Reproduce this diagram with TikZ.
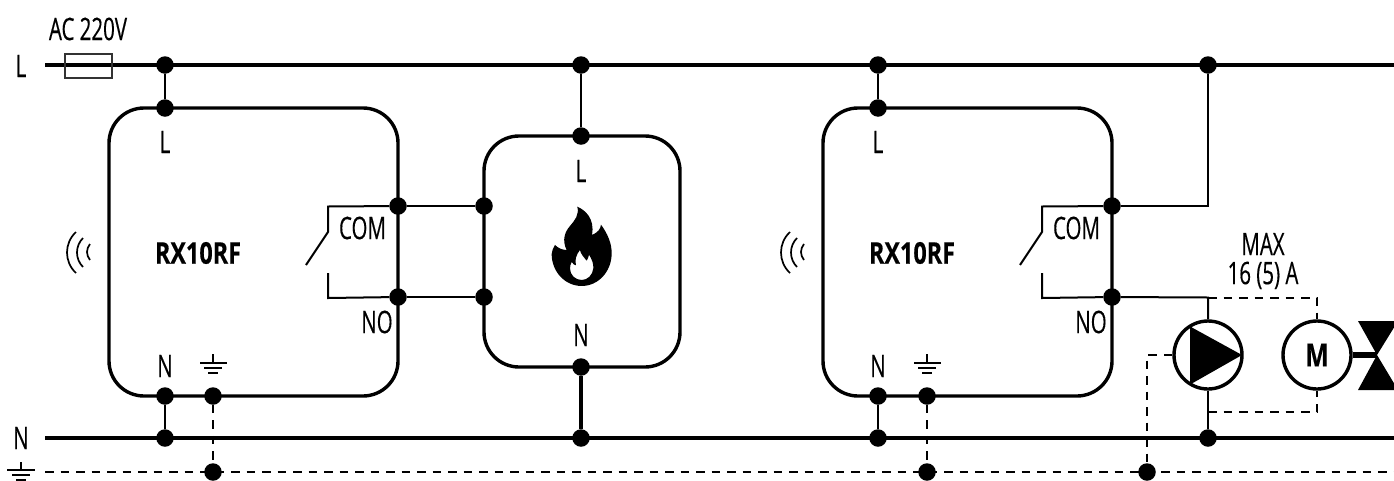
\documentclass[tikz,border=0pt]{standalone}
\usepackage{fontspec}
\setmainfont[FakeStretch=0.66,FakeBold=0.35,BoldFeatures={FakeStretch=0.78,FakeBold=0.3}]{Open Sans}
\begin{document}
\begin{tikzpicture}[x=1pt,y=-1pt,
  dotnode/.style={circle,fill=black,draw=none,minimum size=17.5pt,inner sep=0pt},
  boxnode/.style={draw=black,line width=3.4pt,rounded corners=35pt,inner sep=0pt,fill=none},
  lbl/.style={font=\fontsize{31}{31}\selectfont,inner sep=0pt,text=black},
  bold/.style={font=\fontsize{30}{30}\selectfont\bfseries,inner sep=0pt,text=black},
  bus/.style={line width=3.6pt},
  thin wire/.style={line width=2pt},
  mid wire/.style={line width=2.6pt},
  dashwire/.style={line width=2pt,dash pattern=on 8.5pt off 7pt},
  symb/.style={line width=3.4pt,draw=black,circle,minimum size=68pt,inner sep=0pt},
  earthbar/.style={line width=2.2pt},
  wave/.style={line width=1.7pt}]
\useasboundingbox (0,0) rectangle (1394,480);
% boxes
\node[boxnode,minimum width=289pt,minimum height=288pt] (b1) at (253.5,252) {};
\node[boxnode,minimum width=196pt,minimum height=231pt] (b2) at (582,251.5) {};
\node[boxnode,minimum width=289pt,minimum height=288pt] (b3) at (967.5,252) {};
% bus ends
\coordinate (Ls) at (45,65); \coordinate (Le) at (1396,65);
\coordinate (Ns) at (45,438); \coordinate (Ne) at (1396,438);
\coordinate (Es) at (45,472); \coordinate (Ee) at (1396,472);
\draw[bus] (Ls) -- (Le);
\draw[bus] (Ns) -- (Ne);
\draw[dashwire] (Es) -- (Ee);
% fuse
\node[draw=black!80,line width=2pt,minimum width=47pt,minimum height=24pt,inner sep=0pt] (fuse) at (88.5,66) {};
% dots
\foreach \n/\x/\y in {a1/165/65,a2/165/108,a3/398/206,a4/398/297,a5/165/396,a6/213/396,a7/165/438,a8/213/472,
  f1/581/65,f2/581/136,f3/484/206,f4/484/297,f5/581/367,f6/581/438,
  c1/878/65,c2/878/108,c3/1112/206,c4/1112/297,c5/878/396,c6/927/396,c7/878/438,c8/927/472,
  d1/1208/65,d2/1208/438,d3/1147/472}
  \node[dotnode] (\n) at (\x,\y) {};
% pump, motor
\node[symb] (pump) at (1208,355) {};
\node[symb,font=\fontsize{32}{32}\selectfont\bfseries] (motor) at (1317,355) {M};
\fill (1191,327) -- (1242,355) -- (1191,384) -- cycle;
\draw[thin wire] (1191,327) -- (1191,384);
% valve
\coordinate (vc) at (1377,355);
\fill (1358,321) -- (1398,321) -- (vc) -- cycle;
\fill (1358,390) -- (1398,390) -- (vc) -- cycle;
\draw[line width=6pt] (motor) -- (vc);
% connectors
\draw[mid wire] (a1) -- (a2);
\draw[mid wire] (a5) -- (a7);
\draw[dashwire] (a6) -- (a8);
\draw[thin wire] (a3) -- (f3);
\draw[thin wire] (a4) -- (f4);
\draw[mid wire] (f1) -- (f2);
\draw[bus] (f5) -- (f6);
\draw[mid wire] (c1) -- (c2);
\draw[mid wire] (c5) -- (c7);
\draw[dashwire] (c6) -- (c8);
\draw[thin wire] (c3) -| (d1);
\coordinate (j1) at (1208,297.5);
\draw[thin wire] (c4) -- (j1) -- (pump);
\draw[mid wire] (pump) -- (d2);
\coordinate (j2) at (1208,412);
\draw[dashwire] (j1) -| (motor);
\draw[dashwire] (j2) -| (motor);
\draw[dashwire] (pump.west) -| (d3);
% switches
\foreach \ox/\cm/\no in {0/a3/a4,714/c3/c4}{
  \begin{scope}[xshift=\ox pt]
    \coordinate (s1) at (328,206.5); \coordinate (s2) at (328,232); \coordinate (s3) at (306,265);
    \coordinate (s4) at (328,273); \coordinate (s5) at (328,298);
  \end{scope}
  \draw[thin wire] (\cm) -- (s1) -- (s2) -- (s3);
  \draw[thin wire] (\no) -- (s5) -- (s4);
}
% radio arcs and earth symbols
\foreach \ox in {0,714}{
  \begin{scope}[xshift=\ox pt]
    \draw[wave] (76,232) .. controls (64,243) and (64,262) .. (76,273);
    \draw[wave] (83,238) .. controls (75,246) and (75,259) .. (83,267);
    \draw[wave] (90,244) .. controls (86,249) and (86,255) .. (90,260);
    \draw[earthbar] (213,354) -- (213,363);
    \draw[earthbar] (200,363) -- (227,363);
    \draw[earthbar] (204,368) -- (222,368);
    \draw[earthbar] (208,373) -- (218,373);
  \end{scope}
}
\draw[earthbar] (21,462) -- (21,470);
\draw[earthbar] (7,470) -- (35,470);
\draw[earthbar] (12,475) -- (30,475);
\draw[earthbar] (16,480) -- (26,480);
% flame
\begin{scope}[shift={(470,120)},x=0.3333pt,y=-0.3333pt]
  \fill[even odd rule] (322,260) .. controls (345,270) and (375,295) .. (366,345)
    .. controls (382,338) and (392,328) .. (393,314)
    .. controls (412,340) and (426,370) .. (425,402)
    .. controls (424,455) and (385,498) .. (335,498)
    .. controls (285,498) and (245,455) .. (245,402)
    .. controls (245,392) and (250,384) .. (255,375)
    .. controls (265,385) and (278,390) .. (290,390)
    .. controls (275,360) and (285,335) .. (300,318)
    .. controls (315,300) and (328,285) .. (322,260) -- cycle
    (330,390) .. controls (332,402) and (342,412) .. (350,422)
    .. controls (354,416) and (356,410) .. (357,404)
    .. controls (366,418) and (371,432) .. (370,445)
    .. controls (368,466) and (352,480) .. (335,480)
    .. controls (316,480) and (300,465) .. (300,445)
    .. controls (300,438) and (302,432) .. (305,426)
    .. controls (309,432) and (313,435) .. (318,436)
    .. controls (314,420) and (318,405) .. (330,390) -- cycle;
\end{scope}
% labels
\node[lbl] (tac) at (88,29) {AC 220V};
\node[lbl] (tL) at (21,66) {L};
\node[lbl] (tN) at (21,438) {N};
\node[lbl] (t1) at (165,142) {L};
\node[lbl] (t2) at (165,366) {N};
\node[bold] (t3) at (198,253) {RX10RF};
\node[lbl] (t4) at (362.5,228) {COM};
\node[lbl] (t5) at (377,322) {NO};
\node[lbl] (t6) at (581,171) {L};
\node[lbl] (t7) at (581,335) {N};
\node[lbl] (t8) at (878,142) {L};
\node[lbl] (t9) at (878,366) {N};
\node[bold] (t10) at (912,253) {RX10RF};
\node[lbl] (t11) at (1076.5,228) {COM};
\node[lbl] (t12) at (1091,322) {NO};
\node[lbl,align=center,font=\fontsize{31}{29}\selectfont] (t13) at (1263,261) {MAX\\16 (5) A};
\end{tikzpicture}
\end{document}
